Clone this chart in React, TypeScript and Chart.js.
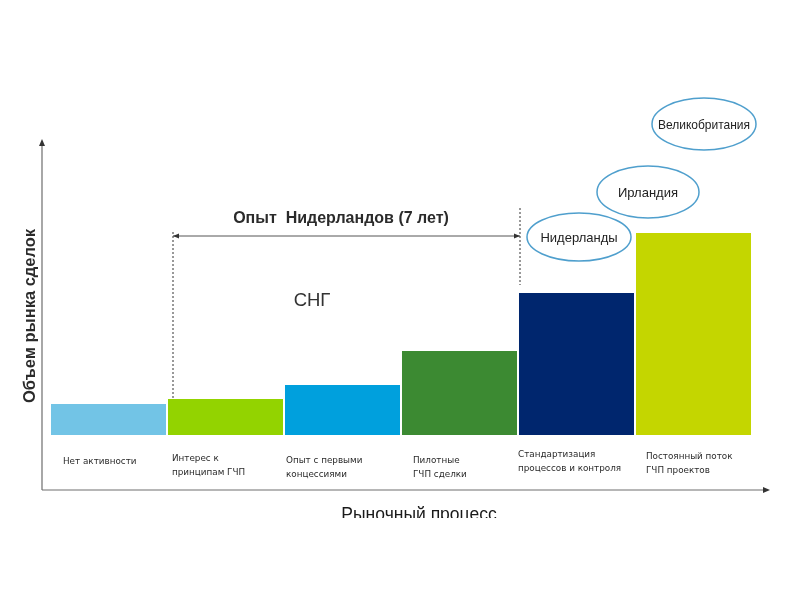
import React, { useEffect, useRef } from "react";
import { Chart, registerables } from "chart.js";

Chart.register(...registerables);

const categories = [
  ["Нет активности"],
  ["Интерес к", "принципам ГЧП"],
  ["Опыт с первыми", "концессиями"],
  ["Пилотные", "ГЧП сделки"],
  ["Стандартизация", "процессов и контроля"],
  ["Постоянный поток", "ГЧП проектов"],
];
const values = [31, 36, 50, 84, 142, 202];
const barColors = ["#72c4e6", "#93d300", "#00a0dd", "#3c8a32", "#00266e", "#c4d600"];
const yAxisTitle = "Объем рынка сделок";
const xAxisTitle = "Рыночный процесс";
const spanTitle = "Опыт  Нидерландов (7 лет)";
const cisLabel = "СНГ";
const countries = ["Нидерланды", "Ирландия", "Великобритания"];

// layout-only constants
const labelDx = [13, 5, 2, 12, 0, 11];
const labelDy = [462, 459, 461, 461, 455, 457];
const ellipses = [
  { cx: 579, cy: 237, rx: 52, ry: 24 },
  { cx: 648, cy: 192, rx: 51, ry: 26 },
  { cx: 704, cy: 124, rx: 52, ry: 26 },
];

const FONT = "'Liberation Sans', Arial, sans-serif";
const SMALL = "'DejaVu Sans', Verdana, sans-serif";

const overlay = {
  id: "overlay",
  afterDraw(chart: any) {
    const { ctx, chartArea } = chart;
    const x = chart.scales.x;
    const y = chart.scales.y;
    const base = y.getPixelForValue(0);
    const bw = (chartArea.right - chartArea.left) / categories.length;
    const ox = 42;
    const axisY = base + 55;
    ctx.save();

    // axes
    ctx.strokeStyle = "#6e6e6e";
    ctx.fillStyle = "#333";
    ctx.lineWidth = 1.2;
    ctx.beginPath();
    ctx.moveTo(ox, axisY);
    ctx.lineTo(ox, y.getPixelForValue(292));
    ctx.moveTo(ox, axisY);
    ctx.lineTo(chartArea.right + 14, axisY);
    ctx.stroke();
    ctx.beginPath();
    const ty = y.getPixelForValue(296);
    ctx.moveTo(ox, ty);
    ctx.lineTo(ox - 3, ty + 7);
    ctx.lineTo(ox + 3, ty + 7);
    ctx.closePath();
    ctx.fill();
    const tx = chartArea.right + 18;
    ctx.beginPath();
    ctx.moveTo(tx, axisY);
    ctx.lineTo(tx - 7, axisY - 3);
    ctx.lineTo(tx - 7, axisY + 3);
    ctx.closePath();
    ctx.fill();

    // category labels
    ctx.fillStyle = "#2a2a2a";
    ctx.font = `8.8px ${SMALL}`;
    ctx.textAlign = "left";
    ctx.textBaseline = "middle";
    categories.forEach((lines, i) => {
      const left = x.getPixelForValue(i) - bw / 2;
      lines.forEach((t, j) => {
        ctx.fillText(t, left + labelDx[i], labelDy[i] + j * 13.5);
      });
    });

    // y axis title
    ctx.save();
    ctx.translate(30, 316);
    ctx.rotate(-Math.PI / 2);
    ctx.font = `bold 16.5px ${FONT}`;
    ctx.textAlign = "center";
    ctx.textBaseline = "middle";
    ctx.fillStyle = "#2b2b2b";
    ctx.fillText(yAxisTitle, 0, 0);
    ctx.restore();

    // x axis title (clipped at bottom like the reference)
    ctx.save();
    ctx.beginPath();
    ctx.rect(0, 0, 800, 518);
    ctx.clip();
    ctx.font = `17.5px ${FONT}`;
    ctx.textAlign = "center";
    ctx.textBaseline = "middle";
    ctx.fillStyle = "#1a1a1a";
    ctx.fillText(xAxisTitle, 419, 515);
    ctx.restore();

    // span annotation
    const x1 = x.getPixelForValue(1) - bw / 2 + 6;
    const x2 = x.getPixelForValue(4) - bw / 2 + 2;
    const spanY = 236;
    ctx.strokeStyle = "#333";
    ctx.lineWidth = 1;
    ctx.setLineDash([2, 2]);
    ctx.beginPath();
    ctx.moveTo(x1, spanY - 4);
    ctx.lineTo(x1, y.getPixelForValue(values[1]));
    ctx.moveTo(x2, spanY - 28);
    ctx.lineTo(x2, y.getPixelForValue(values[4]) - 8);
    ctx.stroke();
    ctx.setLineDash([]);
    ctx.strokeStyle = "#555";
    ctx.beginPath();
    ctx.moveTo(x1, spanY);
    ctx.lineTo(x2, spanY);
    ctx.stroke();
    ctx.fillStyle = "#333";
    ctx.beginPath();
    ctx.moveTo(x1, spanY);
    ctx.lineTo(x1 + 6, spanY - 2.5);
    ctx.lineTo(x1 + 6, spanY + 2.5);
    ctx.closePath();
    ctx.fill();
    ctx.beginPath();
    ctx.moveTo(x2, spanY);
    ctx.lineTo(x2 - 6, spanY - 2.5);
    ctx.lineTo(x2 - 6, spanY + 2.5);
    ctx.closePath();
    ctx.fill();

    ctx.font = `bold 16px ${FONT}`;
    ctx.textAlign = "center";
    ctx.textBaseline = "middle";
    ctx.fillStyle = "#2b2b2b";
    ctx.fillText(spanTitle, 341, 219);

    ctx.font = `18.5px ${FONT}`;
    ctx.fillStyle = "#333";
    ctx.fillText(cisLabel, 312, 301);

    // ellipses
    ctx.strokeStyle = "#4f9fcd";
    ctx.lineWidth = 1.5;
    ctx.font = `13px ${FONT}`;
    ellipses.forEach((e, i) => {
      ctx.beginPath();
      ctx.ellipse(e.cx, e.cy, e.rx, e.ry, 0, 0, Math.PI * 2);
      ctx.fillStyle = "#fff";
      ctx.fill();
      ctx.stroke();
      ctx.fillStyle = "#222";
      ctx.fillText(countries[i], e.cx, e.cy + 1, 92);
    });

    ctx.restore();
  },
};

export default function App() {
  const ref = useRef<HTMLCanvasElement>(null);
  useEffect(() => {
    if (!ref.current) return;
    const chart = new Chart(ref.current, {
      type: "bar",
      data: {
        labels: categories.map((c) => c.join(" ")),
        datasets: [
          {
            data: values,
            backgroundColor: barColors,
            borderWidth: 0,
            barPercentage: 1,
            categoryPercentage: 0.983,
          },
        ],
      },
      options: {
        responsive: false,
        animation: false,
        layout: { padding: { left: 50, right: 48, top: 135, bottom: 165 } },
        plugins: { legend: { display: false }, tooltip: { enabled: false } },
        scales: {
          x: { display: false },
          y: { display: false, min: 0, max: 300 },
        },
      },
      plugins: [overlay],
    });
    return () => chart.destroy();
  }, []);
  return (
    <div style={{ position: "fixed", left: 0, top: 0, width: 800, height: 600, background: "#fff" }}>
      <canvas ref={ref} width={800} height={600} />
    </div>
  );
}
